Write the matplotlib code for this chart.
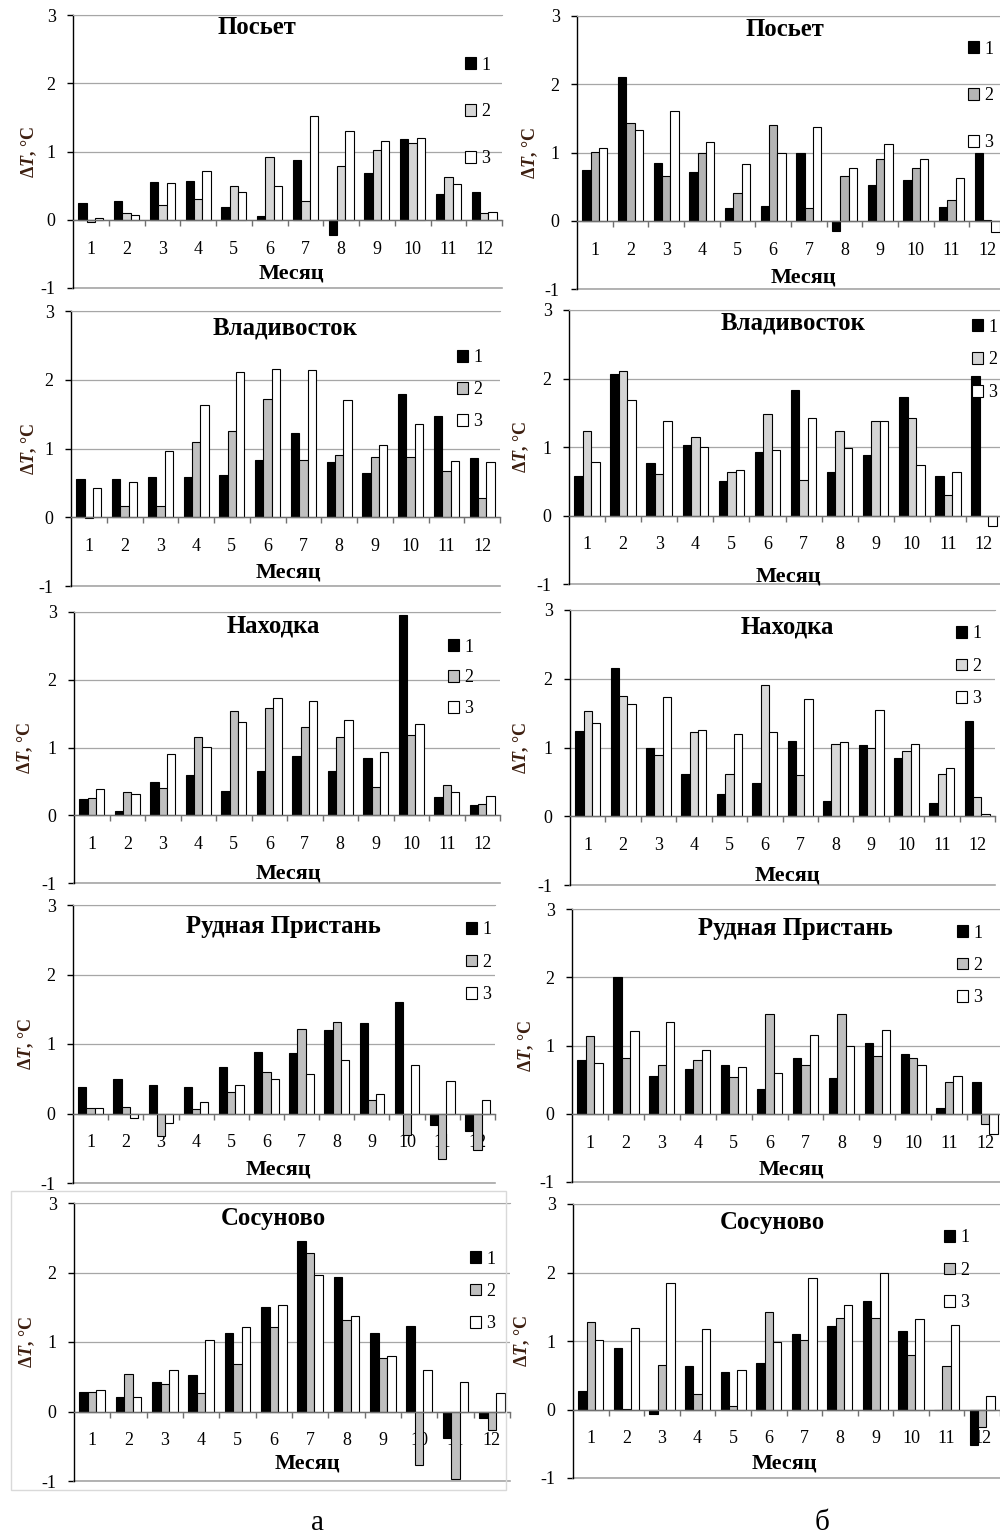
import matplotlib
matplotlib.use('Agg')
import matplotlib.pyplot as plt
from matplotlib.patches import Patch, Rectangle
import numpy as np

plt.rcParams['font.family'] = ['Liberation Serif', 'DejaVu Serif']
plt.rcParams['mathtext.fontset'] = 'custom'
plt.rcParams['mathtext.it'] = 'Liberation Serif:italic:bold'
plt.rcParams['mathtext.rm'] = 'Liberation Serif:bold'
plt.rcParams['mathtext.bf'] = 'Liberation Serif:bold'

# ---------------- data ----------------
months = ['1', '2', '3', '4', '5', '6', '7', '8', '9', '10', '11', '12']
series_labels = ['1', '2', '3']
y_ticks = [-1, 0, 1, 2, 3]
titles = ['Посьет', 'Посьет', 'Владивосток', 'Владивосток', 'Находка', 'Находка',
          'Рудная Пристань', 'Рудная Пристань', 'Сосуново', 'Сосуново']
column_labels = ['а', 'б']

posyet_a1 = [0.24, 0.27, 0.56, 0.57, 0.19, 0.05, 0.88, -0.22, 0.69, 1.19, 0.37, 0.40]
posyet_a2 = [-0.03, 0.10, 0.22, 0.30, 0.50, 0.92, 0.27, 0.79, 1.02, 1.13, 0.63, 0.10]
posyet_a3 = [0.03, 0.07, 0.54, 0.72, 0.40, 0.49, 1.52, 1.30, 1.15, 1.20, 0.52, 0.12]

posyet_b1 = [0.75, 2.10, 0.85, 0.71, 0.19, 0.22, 1.00, -0.15, 0.52, 0.59, 0.20, 1.00]
posyet_b2 = [1.01, 1.43, 0.65, 1.00, 0.41, 1.41, 0.18, 0.65, 0.91, 0.77, 0.30, 0.01]
posyet_b3 = [1.06, 1.33, 1.61, 1.16, 0.83, 1.00, 1.38, 0.77, 1.12, 0.91, 0.63, -0.17]

vlad_a1 = [0.55, 0.56, 0.59, 0.58, 0.61, 0.83, 1.22, 0.81, 0.64, 1.80, 1.48, 0.86]
vlad_a2 = [-0.01, 0.16, 0.16, 1.09, 1.25, 1.72, 0.84, 0.90, 0.87, 0.87, 0.67, 0.28]
vlad_a3 = [0.43, 0.52, 0.97, 1.63, 2.11, 2.15, 2.14, 1.70, 1.05, 1.36, 0.82, 0.80]

vlad_b1 = [0.58, 2.06, 0.77, 1.03, 0.51, 0.92, 1.83, 0.64, 0.88, 1.73, 0.57, 2.04]
vlad_b2 = [1.23, 2.11, 0.60, 1.15, 0.63, 1.48, 0.52, 1.23, 1.38, 1.43, 0.30, -0.01]
vlad_b3 = [0.78, 1.68, 1.38, 1.00, 0.66, 0.95, 1.43, 0.98, 1.38, 0.73, 0.63, -0.15]

nakh_a1 = [0.24, 0.07, 0.49, 0.60, 0.36, 0.65, 0.88, 0.66, 0.84, 2.95, 0.27, 0.15]
nakh_a2 = [0.26, 0.34, 0.40, 1.15, 1.54, 1.59, 1.30, 1.15, 0.42, 1.18, 0.44, 0.17]
nakh_a3 = [0.39, 0.31, 0.91, 1.01, 1.38, 1.73, 1.69, 1.40, 0.93, 1.35, 0.34, 0.29]

nakh_b1 = [1.24, 2.15, 1.00, 0.62, 0.32, 0.49, 1.10, 0.22, 1.04, 0.85, 0.20, 1.38]
nakh_b2 = [1.53, 1.75, 0.89, 1.22, 0.62, 1.91, 0.60, 1.05, 1.00, 0.95, 0.62, 0.28]
nakh_b3 = [1.35, 1.64, 1.73, 1.25, 1.19, 1.22, 1.71, 1.08, 1.55, 1.05, 0.70, 0.04]

rudn_a1 = [0.38, 0.50, 0.41, 0.38, 0.67, 0.89, 0.87, 1.20, 1.30, 1.61, -0.17, -0.25]
rudn_a2 = [0.08, 0.10, -0.32, 0.06, 0.31, 0.59, 1.21, 1.31, 0.20, -0.31, -0.66, -0.53]
rudn_a3 = [0.08, -0.06, -0.14, 0.16, 0.41, 0.49, 0.57, 0.77, 0.28, 0.70, 0.47, 0.20]

rudn_b1 = [0.79, 2.00, 0.56, 0.66, 0.72, 0.36, 0.81, 0.52, 1.03, 0.87, 0.09, 0.47]
rudn_b2 = [1.14, 0.82, 0.72, 0.79, 0.54, 1.46, 0.71, 1.46, 0.85, 0.82, 0.47, -0.15]
rudn_b3 = [0.74, 1.21, 1.34, 0.94, 0.69, 0.60, 1.16, 1.00, 1.22, 0.71, 0.55, -0.30]

sos_a1 = [0.28, 0.21, 0.43, 0.53, 1.13, 1.50, 2.45, 1.94, 1.13, 1.23, -0.38, -0.10]
sos_a2 = [0.28, 0.54, 0.39, 0.26, 0.69, 1.22, 2.28, 1.31, 0.77, -0.77, -0.97, -0.27]
sos_a3 = [0.31, 0.21, 0.59, 1.03, 1.22, 1.53, 1.97, 1.38, 0.80, 0.59, 0.43, 0.26]

sos_b1 = [0.27, 0.90, -0.07, 0.63, 0.55, 0.68, 1.10, 1.22, 1.59, 1.14, 0.00, -0.52]
sos_b2 = [1.28, 0.01, 0.65, 0.23, 0.05, 1.43, 1.01, 1.34, 1.34, 0.79, 0.63, -0.25]
sos_b3 = [1.01, 1.19, 1.85, 1.17, 0.57, 0.98, 1.92, 1.53, 1.99, 1.32, 1.23, 0.19]

panel_series = [
    (posyet_a1, posyet_a2, posyet_a3), (posyet_b1, posyet_b2, posyet_b3),
    (vlad_a1, vlad_a2, vlad_a3), (vlad_b1, vlad_b2, vlad_b3),
    (nakh_a1, nakh_a2, nakh_a3), (nakh_b1, nakh_b2, nakh_b3),
    (rudn_a1, rudn_a2, rudn_a3), (rudn_b1, rudn_b2, rudn_b3),
    (sos_a1, sos_a2, sos_a3), (sos_b1, sos_b2, sos_b3),
]

# ---------------- layout (pixels) ----------------
W, H = 1000, 1537
# left, top(y=3), right, bottom(y=-1)
rects = [
    (73, 15, 502, 288), (577, 16, 1005, 289),
    (71, 311, 500, 586), (569, 310, 1002, 584),
    (74, 612, 500, 883), (570, 610, 995, 885),
    (73, 905, 495, 1183), (572, 909, 1003, 1182),
    (74, 1203, 510, 1481), (573, 1204, 1000, 1478),
]
title_pos = [(257, 28), (785, 30), (285, 328), (793, 323), (273, 626), (787, 627),
             (283, 926), (795, 928), (273, 1219), (772, 1223)]
xlabel_pos = [(291, 273), (803, 278), (288, 572), (788, 577), (288, 873), (787, 875),
              (278, 1169), (791, 1169), (307, 1464), (784, 1464)]
ylabel_x = [29, 530, 29, 521, 25, 521, 26, 526, 27, 522]
legend_pos = [(465, 63, 47), (968, 47, 47), (457, 356, 32), (972, 325, 33),
              (448, 645, 31), (956, 632, 32.5), (466, 928, 32.5), (957, 931, 32.5),
              (470, 1257, 32.5), (944, 1236, 32.5)]
greys = ['#d6d6d6', '#b4b4b4', '#c0c0c0', '#d4d4d4', '#c0c0c0', '#d8d8d8',
         '#bfbfbf', '#bfbfbf', '#bfbfbf', '#bfbfbf']


def fx(x):
    return x / W


def fy(y):
    return 1 - y / H


fig = plt.figure(figsize=(10, 15.37), dpi=100)
fig.patch.set_facecolor('white')

# light frame around the lower-left picture
fig.add_artist(Rectangle((fx(11), fy(1490)), fx(506) - fx(11), fy(1191) - fy(1490),
                         transform=fig.transFigure, fill=False, ec='#d9d9d9', lw=1.0))

x = np.arange(len(months))
bw = 0.235
fs_px = 13 * 100 / 72
row_h = 17.2

for i, (l, t, r, b) in enumerate(rects):
    ax = fig.add_axes([fx(l), fy(b), fx(r) - fx(l), fy(t) - fy(b)])
    s1, s2, s3 = panel_series[i]
    cols = ['black', greys[i], 'white']
    for k, (s, c) in enumerate(zip((s1, s2, s3), cols)):
        ax.bar(x + (k - 1) * bw, s, width=bw, color=c, edgecolor='black',
               linewidth=0.8, zorder=3, label=series_labels[k])
    ax.set_xlim(-0.5, 11.5)
    ax.set_ylim(-1, 3)
    ax.set_yticks(y_ticks)
    ax.set_yticklabels([str(v) for v in y_ticks], fontsize=13)
    ax.yaxis.grid(True, color='#a6a6a6', lw=0.9, zorder=0)
    ax.set_axisbelow(True)
    ax.axhline(-1, color='#a6a6a6', lw=1.2, clip_on=False, zorder=1)
    ax.spines['right'].set_visible(False)
    ax.spines['top'].set_color('#a6a6a6')
    ax.spines['left'].set_color('black')
    ax.spines['left'].set_linewidth(1.0)
    ax.spines['bottom'].set_position(('data', 0))
    ax.spines['bottom'].set_color('#707070')
    ax.spines['bottom'].set_linewidth(1.0)
    ax.spines['bottom'].set_zorder(4)
    ax.tick_params(axis='y', direction='out', length=4.5, width=1, color='black',
                   pad=8, labelsize=13)
    ax.set_xticks(np.arange(0.5, 12, 1))
    ax.set_xticklabels([])
    ax.set_xticks(x, minor=True)
    ax.set_xticklabels(months, minor=True, fontsize=13)
    ax.tick_params(axis='x', which='major', direction='out', length=4.5, width=1,
                   color='#707070')
    ax.tick_params(axis='x', which='minor', length=0, pad=15)

    # title, axis labels
    tx, ty = title_pos[i]
    fig.text(fx(tx), fy(ty), titles[i], ha='center', va='center', fontsize=17.8,
             fontweight='bold')
    lx, ly = xlabel_pos[i]
    fig.text(fx(lx), fy(ly), 'Месяц', ha='center', va='center', fontsize=16,
             fontweight='bold')
    fig.text(fx(ylabel_x[i]), fy((t + b) / 2), r'Δ$\mathit{T}$, °C', rotation=90,
             ha='center', va='center', fontsize=13, fontweight='bold', color='#3d1f10')

    # legend
    gx, gy, gsp = legend_pos[i]
    handles = [Patch(facecolor=c, edgecolor='black', linewidth=0.8) for c in cols]
    fig.legend(handles, series_labels, loc='upper left',
               bbox_to_anchor=(fx(gx), fy(gy - 6.5)),
               bbox_transform=fig.transFigure, frameon=False, fontsize=13,
               handlelength=0.62, handleheight=0.62, handletextpad=0.3,
               labelspacing=(gsp - row_h) / fs_px, borderpad=0, borderaxespad=0)

fig.text(fx(317), fy(1523), column_labels[0], ha='center', va='center', fontsize=21)
fig.text(fx(822), fy(1523), column_labels[1], ha='center', va='center', fontsize=21)

fig.savefig('out.png', dpi=100)
